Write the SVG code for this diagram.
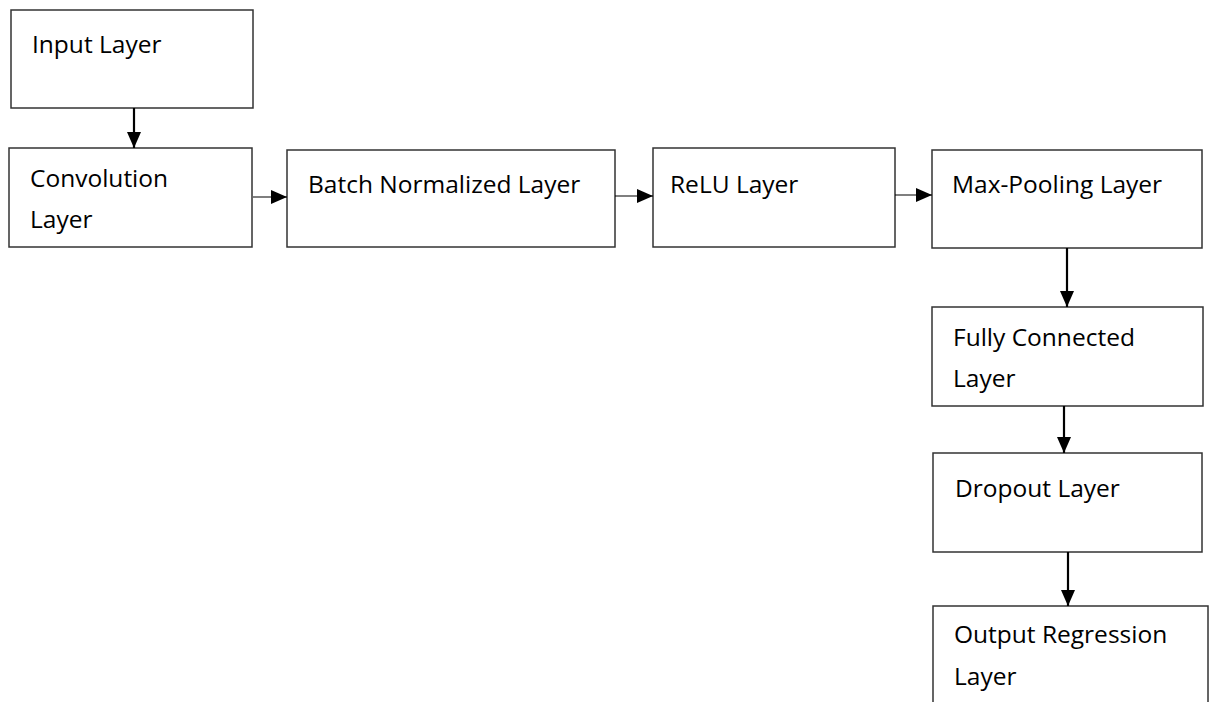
<svg xmlns="http://www.w3.org/2000/svg" width="1211" height="702" viewBox="0 0 1211 702">
  <style>
    .box { fill: #ffffff; stroke: #333333; stroke-width: 1.5; }
    .lbl { font-family: "Open Sans", "Liberation Sans", sans-serif; font-size: 24.5px; fill: #000000; }
    .thin { stroke: #000000; stroke-width: 1.2; fill: none; }
    .thick { stroke: #000000; stroke-width: 2.2; fill: none; }
  </style>
  <defs>
    <marker id="head" viewBox="0 0 16 14" refX="16" refY="7" markerWidth="16" markerHeight="14" markerUnits="userSpaceOnUse" orient="auto">
      <path d="M0,0 L16,7 L0,14 Z" fill="#000000"/>
    </marker>
  </defs>
  <rect width="1211" height="702" fill="#ffffff"/>

  <g id="input-layer">
    <rect class="box" x="11" y="10" width="242" height="98"/>
    <text class="lbl" x="32" y="53">Input Layer</text>
  </g>
  <g id="convolution-layer">
    <rect class="box" x="9" y="148" width="243" height="99"/>
    <text class="lbl" x="30" y="187">Convolution</text>
    <text class="lbl" x="30" y="228">Layer</text>
  </g>
  <g id="batch-normalized-layer">
    <rect class="box" x="287" y="150" width="328" height="97"/>
    <text class="lbl" x="308" y="193">Batch Normalized Layer</text>
  </g>
  <g id="relu-layer">
    <rect class="box" x="653" y="148" width="242" height="99"/>
    <text class="lbl" x="670" y="193">ReLU Layer</text>
  </g>
  <g id="max-pooling-layer">
    <rect class="box" x="932" y="150" width="270" height="98"/>
    <text class="lbl" x="952" y="193">Max-Pooling Layer</text>
  </g>
  <g id="fully-connected-layer">
    <rect class="box" x="932" y="307" width="271" height="99"/>
    <text class="lbl" x="953" y="346">Fully Connected</text>
    <text class="lbl" x="953" y="387">Layer</text>
  </g>
  <g id="dropout-layer">
    <rect class="box" x="933" y="453" width="269" height="99"/>
    <text class="lbl" x="955" y="497">Dropout Layer</text>
  </g>
  <g id="output-regression-layer">
    <rect class="box" x="933" y="606" width="275" height="110"/>
    <text class="lbl" x="954" y="643">Output Regression</text>
    <text class="lbl" x="954" y="685">Layer</text>
  </g>

  <g id="connectors">
    <line class="thick" x1="134" y1="108" x2="134" y2="148" marker-end="url(#head)"/>
    <line class="thin" x1="253" y1="197" x2="287" y2="197" marker-end="url(#head)"/>
    <line class="thin" x1="615" y1="196" x2="653" y2="196" marker-end="url(#head)"/>
    <line class="thin" x1="895" y1="195" x2="932" y2="195" marker-end="url(#head)"/>
    <line class="thick" x1="1067" y1="248" x2="1067" y2="307" marker-end="url(#head)"/>
    <line class="thick" x1="1064" y1="406" x2="1064" y2="453" marker-end="url(#head)"/>
    <line class="thick" x1="1068" y1="552" x2="1068" y2="606" marker-end="url(#head)"/>
  </g>
</svg>
